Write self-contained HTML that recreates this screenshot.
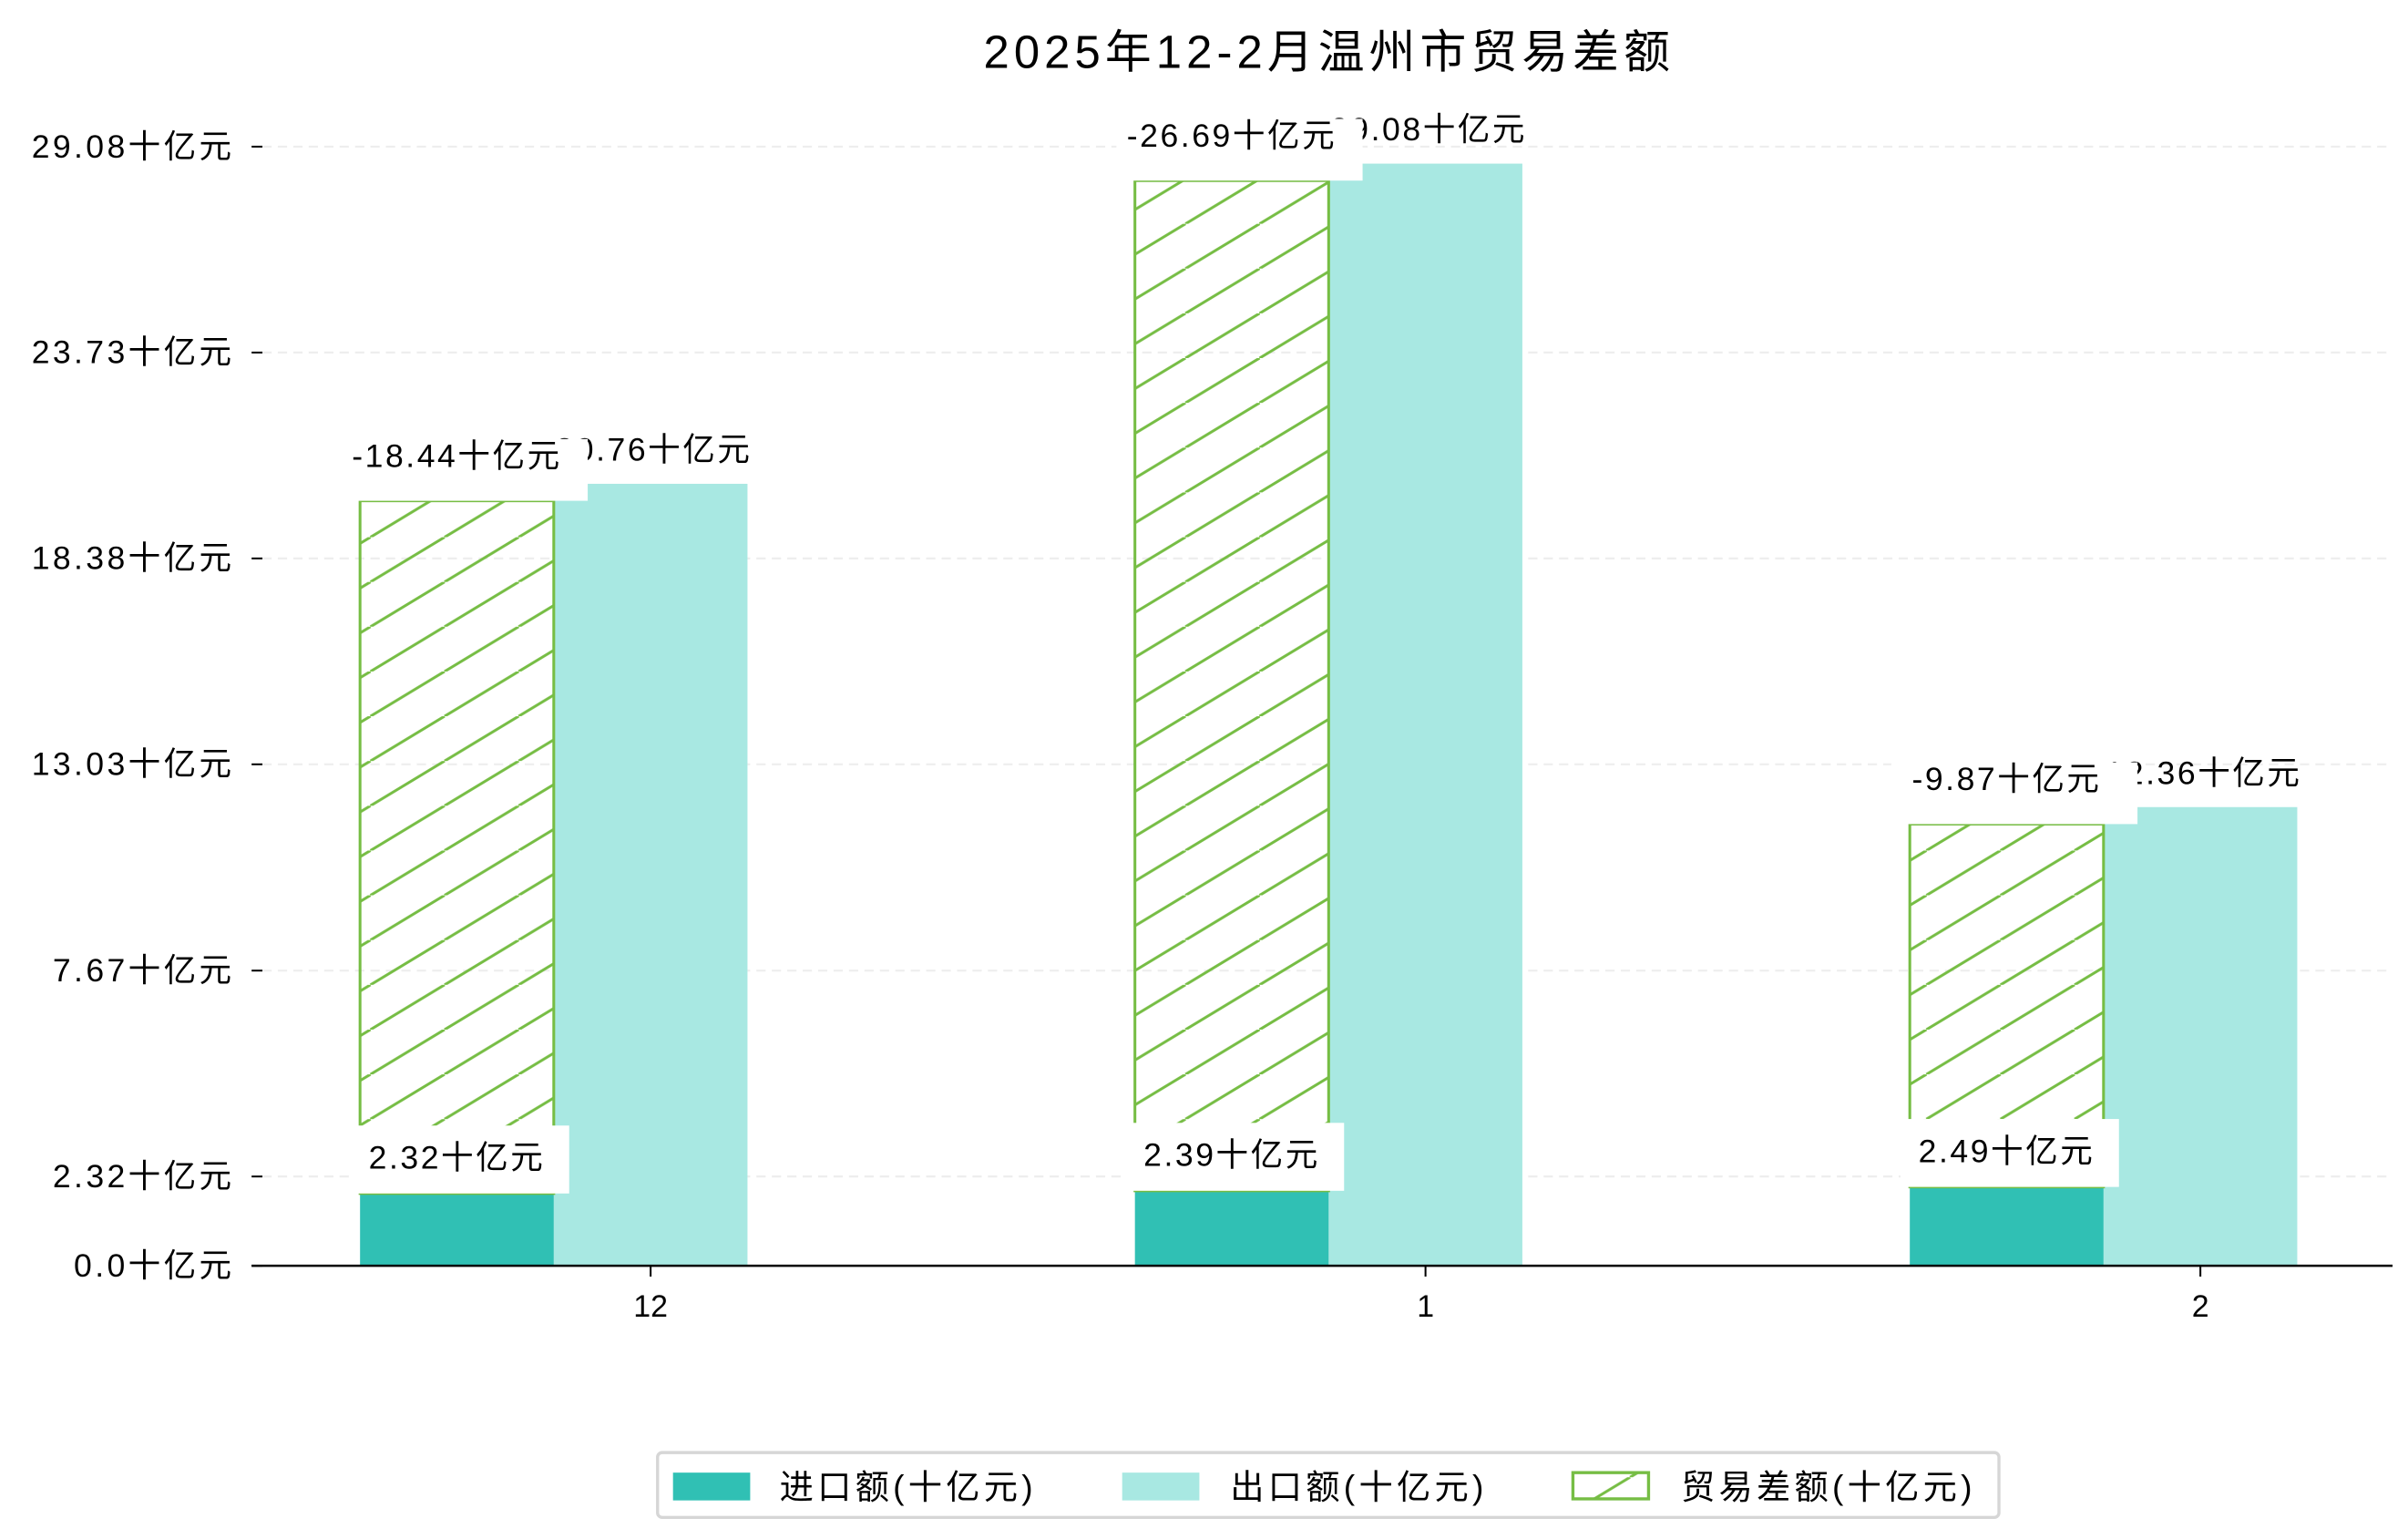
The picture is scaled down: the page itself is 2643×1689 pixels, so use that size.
<!DOCTYPE html>
<html><head><meta charset="utf-8"><style>
html,body{margin:0;padding:0;background:#fff}
svg{display:block}
text{font-family:"Liberation Sans","WenQuanYi Zen Hei","Noto Sans CJK SC",sans-serif;fill:#000}
</style></head><body>
<svg id="chart" width="2643" height="1689" viewBox="0 0 1560 997" preserveAspectRatio="none" xmlns="http://www.w3.org/2000/svg">
<defs>
<pattern id="hatch" patternUnits="userSpaceOnUse" width="48" height="29">
<line x1="0" y1="29" x2="48" y2="0" stroke="#76bd44" stroke-width="1.8"/>
<line x1="-48" y1="29" x2="0" y2="0" stroke="#76bd44" stroke-width="1.8"/>
<line x1="48" y1="29" x2="96" y2="0" stroke="#76bd44" stroke-width="1.8"/>
</pattern>
</defs>
<text x="861" y="44" font-size="30" letter-spacing="3" text-anchor="middle">2025年12-2月温州市贸易差额</text>
<g id="grid"></g><g id="bars"></g><g id="labels"></g><g id="axes"></g>
<g>
<rect x="426" y="941" width="869" height="42" rx="3" fill="#fff" stroke="#d6d6d6" stroke-width="2"/>
<rect x="436" y="954" width="50" height="18" fill="#30c0b4"/>
<text x="505" y="971" font-size="22" letter-spacing="2.5">进口额(十亿元)</text>
<rect x="727" y="954" width="50" height="18" fill="#a8e8e2"/>
<text x="797" y="971" font-size="22" letter-spacing="2.5">出口额(十亿元)</text>
<rect x="1019" y="954" width="49" height="17" fill="url(#hatch)" stroke="#76bd44" stroke-width="2"/>
<text x="1089" y="971" font-size="22" letter-spacing="2.5">贸易差额(十亿元)</text>
</g>
</svg>
<script>
const months = ["12","1","2"];
const imports = [2.32, 2.39, 2.49];
const exports_ = [20.76, 29.08, 12.36];
const balances = [-18.44, -26.69, -9.87];
const tickValues = [0.0, 2.32, 7.67, 13.03, 18.38, 23.73, 29.08];
const tickLabels = ["0.0十亿元","2.32十亿元","7.67十亿元","13.03十亿元","18.38十亿元","23.73十亿元","29.08十亿元"];

const NS="http://www.w3.org/2000/svg";
const x0=163,x1=1550,yZero=820,pxPerUnit=(820-95)/29.08;
const yAxis=v=>yZero-v*pxPerUnit;
const yBar=v=>yZero+11-v*pxPerUnit;
const groupCenter=i=>421.5+i*502;
const bw=125.5;
function mk(tag,attrs,parent,txt){const e=document.createElementNS(NS,tag);for(const k in attrs)e.setAttribute(k,attrs[k]);if(txt!==undefined)e.textContent=txt;parent.appendChild(e);return e;}
const grid=document.getElementById('grid'),bars=document.getElementById('bars'),labels=document.getElementById('labels'),axes=document.getElementById('axes');

tickValues.forEach((v,i)=>{
  const y=yAxis(v);
  if(v>0){const g=mk('line',{x1:170,x2:1550,y1:y,y2:y,stroke:'#eeeeee','stroke-width':1.3,'stroke-dasharray':'6,4'},grid);
  
  }
  const t=mk('line',{x1:163,x2:170,y1:y,y2:y,stroke:'#000','stroke-width':1.2},axes);
  
  
  const l=mk('text',{x:152,y:y+7,'font-size':21,'letter-spacing':2,'text-anchor':'end'},axes,tickLabels[i]);
  
  
});
const ax=mk('line',{x1:x0,x2:x1,y1:yZero,y2:yZero,stroke:'#000','stroke-width':1.5},axes);



months.forEach((m,i)=>{
  const c=groupCenter(i);
  const xr=c-bw/2, xl=xr-bw;
  const ey=yBar(exports_[i]);
  const eb=mk('rect',{x:xr,y:ey,width:bw,height:yZero-ey,fill:'#a8e8e2'},bars);
  
  
  const iy=yBar(imports[i]);
  const ib=mk('rect',{x:xl,y:iy,width:bw,height:yZero-iy,fill:'#30c0b4'},bars);
  
  
  const top=yBar(imports[i]+Math.abs(balances[i]))+11;
  const hb=mk('rect',{x:xl,y:top,width:bw,height:iy-top,fill:'url(#hatch)',stroke:'#76bd44','stroke-width':1.8},bars);
  
  
  const el=mk('text',{x:c+2,y:ey-15,'font-size':21,'letter-spacing':1.5,'text-anchor':'middle'},labels,exports_[i].toFixed(2)+'十亿元');
  
  
  mk('rect',{x:xl-12,y:top-40,width:bw+34,height:40,fill:'#fff'},labels);
  const bl=mk('text',{x:xl+bw/2,y:top-22,'font-size':21,'letter-spacing':1.5,'text-anchor':'middle'},labels,balances[i].toFixed(2)+'十亿元');
  
  
  mk('rect',{x:xl-6,y:iy-44,width:bw+16,height:44,fill:'#fff'},labels);
  const il=mk('text',{x:xl+bw/2,y:iy-16,'font-size':21,'letter-spacing':1.5,'text-anchor':'middle'},labels,imports[i].toFixed(2)+'十亿元');
  
  
  const xt=mk('line',{x1:c,x2:c,y1:yZero,y2:yZero+7,stroke:'#000','stroke-width':1.2},axes);
  
  
  const xlab=mk('text',{x:c,y:853,'font-size':20,'text-anchor':'middle'},axes,m);
  
  
});
</script>
</body></html>
